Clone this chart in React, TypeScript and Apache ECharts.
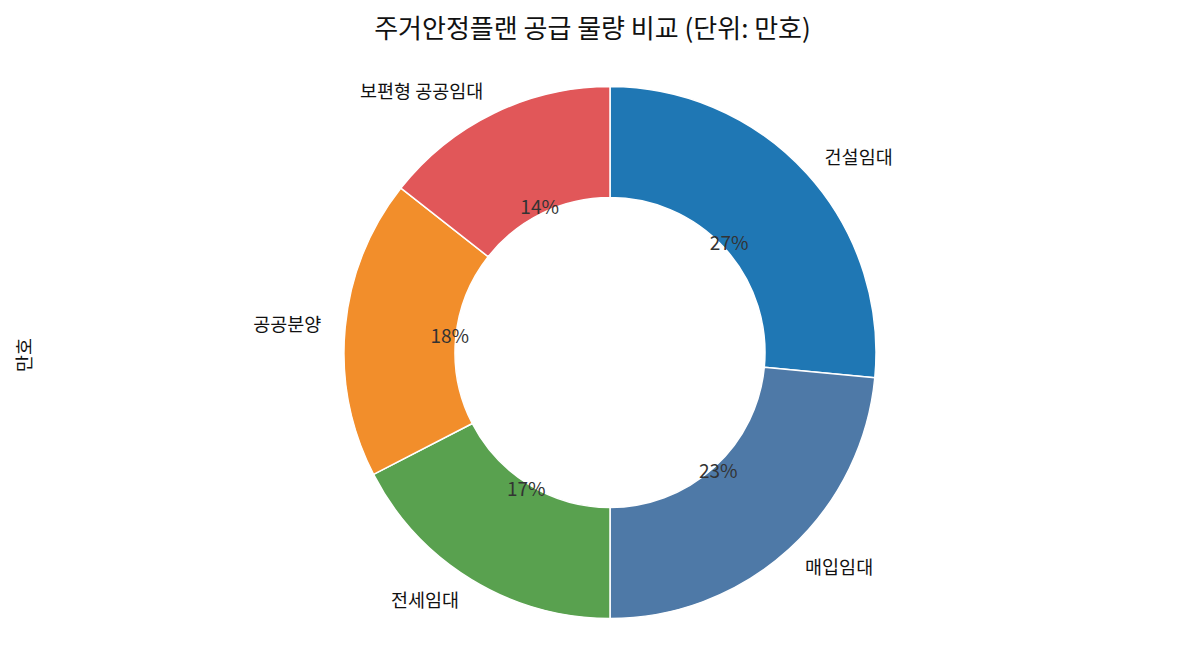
import { useEffect, useRef } from 'react'
import * as echarts from 'echarts'

// 주거안정플랜 공급 물량 (단위: 만호) · 도넛 차트
const CATEGORIES = ['건설임대', '매입임대', '전세임대', '공공분양', '보편형 공공임대']
const SUPPLY = [35, 31, 23, 24, 19]
const COLORS = ['#1f77b4', '#4e79a7', '#59a14f', '#f28e2b', '#e15759']

const FONT = '"Noto Sans CJK KR", "Noto Sans", sans-serif'
const CX = 610
const CY = 352.5

export default function App() {
  const ref = useRef<HTMLDivElement>(null)

  useEffect(() => {
    if (!ref.current) return
    const chart = echarts.init(ref.current, undefined, { renderer: 'svg' })
    const total = SUPPLY.reduce((a, b) => a + b, 0)
    const data = CATEGORIES.map((name, i) => ({
      name,
      value: SUPPLY[i],
      itemStyle: { color: COLORS[i] },
    }))

    chart.setOption({
      animation: false,
      backgroundColor: '#ffffff',
      title: {
        text: '주거안정플랜 공급 물량 비교 (단위: 만호)',
        left: 'center',
        top: 8,
        textStyle: {
          fontFamily: FONT,
          fontSize: 26,
          fontWeight: 'normal',
          color: '#111',
        },
      },
      graphic: [
        {
          type: 'text',
          x: 23,
          y: 355,
          rotation: Math.PI / 2,
          style: {
            text: '만호',
            font: `18.5px ${FONT}`,
            fill: '#111',
            align: 'center',
            verticalAlign: 'middle',
          },
        },
      ],
      series: [
        {
          type: 'pie',
          center: [CX, CY],
          radius: [155, 266],
          startAngle: 90,
          clockwise: true,
          avoidLabelOverlap: false,
          silent: true,
          itemStyle: { borderColor: '#ffffff', borderWidth: 1.5 },
          label: {
            show: true,
            position: 'outside',
            distanceToLabelLine: 0,
            fontFamily: FONT,
            fontSize: 18.5,
            color: '#111',
            offset: [0, -1.5],
            formatter: '{b}',
          },
          labelLine: { show: false, length: 24, length2: 0 },
          data,
        },
        {
          type: 'pie',
          center: [CX, CY],
          radius: [138, 178],
          startAngle: 90,
          clockwise: true,
          avoidLabelOverlap: false,
          silent: true,
          z: 5,
          itemStyle: { color: 'transparent', borderWidth: 0 },
          label: {
            show: true,
            position: 'inside',
            fontFamily: FONT,
            fontSize: 19,
            color: '#333',
            offset: [0, -2.5],
            formatter: (p: any) => `${Math.round((p.value / total) * 100)}%`,
          },
          labelLine: { show: false },
          data: CATEGORIES.map((name, i) => ({
            name,
            value: SUPPLY[i],
            itemStyle: { color: 'transparent' },
          })),
        },
      ],
    })

    return () => chart.dispose()
  }, [])

  return (
    <div
      ref={ref}
      style={{ position: 'fixed', left: 0, top: 0, width: 1185, height: 660 }}
    />
  )
}
